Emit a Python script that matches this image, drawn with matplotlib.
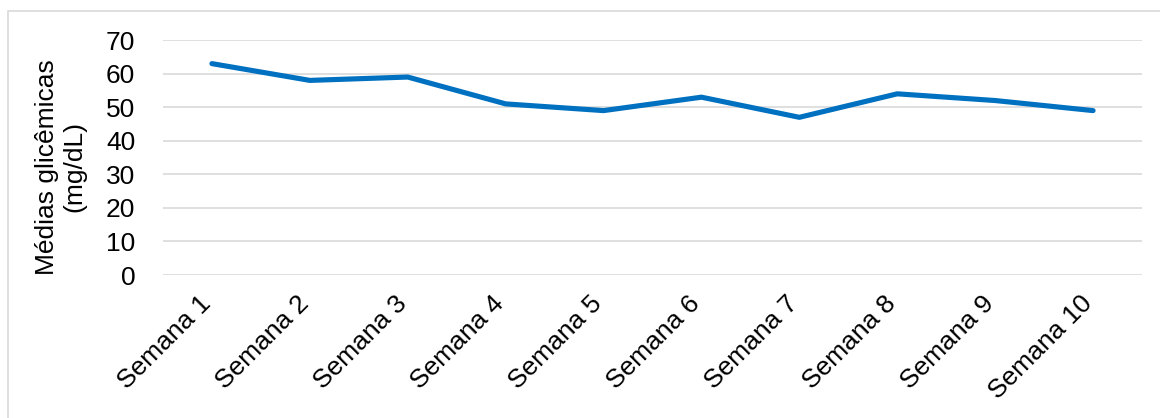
import matplotlib.pyplot as plt
from matplotlib.patches import Rectangle
from matplotlib.transforms import ScaledTranslation

# weekly glycemic means
semanas = ['Semana 1', 'Semana 2', 'Semana 3', 'Semana 4', 'Semana 5',
           'Semana 6', 'Semana 7', 'Semana 8', 'Semana 9', 'Semana 10']
medias = [63, 58, 59, 51, 49, 53, 47, 54, 52, 49]
yticks = [0, 10, 20, 30, 40, 50, 60, 70]

plt.rcParams['font.family'] = ['Liberation Sans', 'DejaVu Sans']

fig = plt.figure(figsize=(11.6, 4.18), dpi=100)
ax = fig.add_axes([0.1405, 0.342, 0.844, 0.562])

# light frame around the chart area
fig.patches.append(Rectangle((8 / 1160, -0.1), 1.2, 1 - 11 / 418 + 0.1,
                             transform=fig.transFigure, fill=False,
                             edgecolor='#D9D9D9', linewidth=1.2))

x = range(len(semanas))
ax.plot(x, medias, color='#0070C0', linewidth=3.7, solid_capstyle='round',
        solid_joinstyle='round', zorder=3)

ax.set_xlim(-0.5, len(semanas) - 0.5)
ax.set_ylim(0, 70)
ax.set_yticks(yticks)
ax.grid(axis='y', color='#D9D9D9', linewidth=1.2)
for s in ax.spines.values():
    s.set_visible(False)
ax.tick_params(axis='both', length=0, labelsize=19)
ax.tick_params(axis='y', pad=20)
ax.set_xticks(list(x))
ax.set_xticklabels(semanas, rotation=45, ha='right', va='center',
                   rotation_mode='anchor')
ax.tick_params(axis='x', pad=18)
# nudge rotated labels a little to the left
shift = ScaledTranslation(-5 / 100, 0, fig.dpi_scale_trans)
for lbl in ax.get_xticklabels():
    lbl.set_transform(lbl.get_transform() + shift)

ax.set_ylabel('Médias glicêmicas\n(mg/dL)', fontsize=19, linespacing=1.2,
              labelpad=14)
ax.yaxis.label.set_y(0.46)

fig.savefig('out.png', dpi=100)
